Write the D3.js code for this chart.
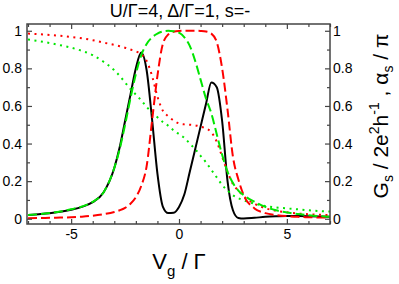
<!DOCTYPE html>
<html>
<head>
<meta charset="utf-8">
<script src="https://cdn.jsdelivr.net/npm/d3@7/dist/d3.min.js"></script>
<style>
  body { margin: 0; background: #fff; }
  svg { display: block; font-family: "Liberation Sans", Arial, sans-serif; }
</style>
</head>
<body>
<div id="chart"></div>
<script>
// gate voltage Vg / Gamma
var vg = [-7, -6.5, -6, -5.5, -5, -4.5, -4, -3.5, -3, -2.75, -2.5, -2.25, -2, -1.75, -1.5, -1.25, -1, -0.75, -0.5, -0.25,
          0, 0.25, 0.5, 0.75, 1, 1.25, 1.5, 1.75, 2, 2.25, 2.5, 2.75, 3, 3.5, 4, 4.5, 5, 5.5, 6, 6.5, 7];

// black solid
var gBlack = [0.02, 0.024, 0.029, 0.037, 0.048, 0.063, 0.088, 0.14, 0.27, 0.38, 0.52, 0.66, 0.80, 0.885, 0.79, 0.53, 0.24, 0.065, 0.03, 0.032,
              0.063, 0.13, 0.25, 0.37, 0.49, 0.61, 0.725, 0.70, 0.52, 0.2, 0.045, 0.004, 0.001, 0.005, 0.01, 0.013, 0.015, 0.014, 0.013, 0.012, 0.011];
// green dashed
var gGreen = [0.02, 0.024, 0.03, 0.038, 0.05, 0.065, 0.09, 0.14, 0.27, 0.37, 0.5, 0.64, 0.77, 0.87, 0.93, 0.965, 0.985, 0.996, 1.0, 0.998,
              0.99, 0.965, 0.92, 0.84, 0.74, 0.64, 0.56, 0.45, 0.34, 0.25, 0.19, 0.15, 0.125, 0.09, 0.063, 0.045, 0.033, 0.025, 0.019, 0.014, 0.011];
// red dashed
var gRed = [0.003, 0.004, 0.005, 0.006, 0.008, 0.011, 0.016, 0.024, 0.036, 0.045, 0.058, 0.08, 0.115, 0.175, 0.28, 0.52, 0.76, 0.93, 0.98, 0.995,
            0.999, 1.0, 1.0, 1.0, 0.999, 0.996, 0.985, 0.94, 0.8, 0.58, 0.33, 0.21, 0.125, 0.055, 0.03, 0.02, 0.014, 0.01, 0.008, 0.007, 0.006];
// red dotted (phase)
var aRed = [0.985, 0.982, 0.978, 0.973, 0.967, 0.96, 0.95, 0.937, 0.925, 0.918, 0.91, 0.90, 0.89, 0.875, 0.84, 0.76, 0.65, 0.575, 0.545, 0.522,
            0.507, 0.502, 0.5, 0.497, 0.49, 0.48, 0.46, 0.41, 0.33, 0.25, 0.185, 0.15, 0.12, 0.08, 0.056, 0.042, 0.034, 0.028, 0.024, 0.021, 0.019];
// green dotted (phase)
var aGreen = [0.953, 0.945, 0.935, 0.923, 0.91, 0.893, 0.87, 0.835, 0.79, 0.76, 0.725, 0.69, 0.66, 0.63, 0.595, 0.565, 0.54, 0.515, 0.495, 0.47,
              0.45, 0.43, 0.40, 0.37, 0.335, 0.30, 0.26, 0.22, 0.18, 0.15, 0.125, 0.11, 0.098, 0.08, 0.068, 0.06, 0.055, 0.05, 0.045, 0.041, 0.038];

var xTicks = [-5, 0, 5];
var xTickLabels = ['-5', '0', '5'];
var xMinor = [-7, -6, -4, -3, -2, -1, 1, 2, 3, 4, 6, 7];
var yTicks = [0, 0.2, 0.4, 0.6, 0.8, 1];
var yTickLabels = ['0', '0.2', '0.4', '0.6', '0.8', '1'];
var yMinor = [0.1, 0.3, 0.5, 0.7, 0.9];

var width = 399, height = 284;
var pLeft = 27, pRight = 330, pTop = 24, pBottom = 224;

var svg = d3.select('#chart').append('svg')
  .attr('width', width)
  .attr('height', height);

var x = d3.scaleLinear().domain([-7, 7]).range([28, 330]);
var y = d3.scaleLinear().domain([-0.028, 1.036]).range([pBottom, pTop]);

svg.append('clipPath').attr('id', 'clip')
  .append('rect')
  .attr('x', pLeft).attr('y', pTop)
  .attr('width', pRight - pLeft).attr('height', pBottom - pTop);

var plot = svg.append('g').attr('clip-path', 'url(#clip)');

var series = [
  { v: gBlack, color: '#000', dash: null },
  { v: aRed, color: '#ff0000', dash: '2,4.5' },
  { v: aGreen, color: '#00e600', dash: '2,4.5' },
  { v: gRed, color: '#ff0000', dash: '9,4' },
  { v: gGreen, color: '#00e600', dash: '9,4' }
];

var line = d3.line()
  .x(function(d) { return x(d[0]); })
  .y(function(d) { return y(d[1]); })
  .curve(d3.curveMonotoneX);

plot.selectAll('path.curve')
  .data(series)
  .enter()
  .append('path')
  .attr('class', 'curve')
  .attr('d', function(s) { return line(d3.zip(vg, s.v)); })
  .attr('fill', 'none')
  .attr('stroke', function(s) { return s.color; })
  .attr('stroke-width', 2)
  .attr('stroke-dasharray', function(s) { return s.dash; });

// axes, ticks point inward
function styleAxis(g) {
  g.select('.domain').remove();
  g.selectAll('line').attr('stroke', '#444').attr('stroke-width', 1.2);
  g.selectAll('text').attr('font-size', 14).attr('fill', '#000')
    .attr('font-family', '"Liberation Sans", Arial, sans-serif');
}

svg.append('g').attr('transform', 'translate(' + pLeft + ',0)')
  .call(d3.axisLeft(y).tickValues(yTicks).tickSize(-5).tickSizeOuter(0).tickPadding(5)
    .tickFormat(function(d, i) { return yTickLabels[i]; }))
  .call(styleAxis);
svg.append('g').attr('transform', 'translate(' + pLeft + ',0)')
  .call(d3.axisLeft(y).tickValues(yMinor).tickSize(-3).tickSizeOuter(0).tickFormat(''))
  .call(styleAxis);

svg.append('g').attr('transform', 'translate(' + pRight + ',0)')
  .call(d3.axisRight(y).tickValues(yTicks).tickSize(-5).tickSizeOuter(0).tickPadding(3)
    .tickFormat(function(d, i) { return yTickLabels[i]; }))
  .call(styleAxis);
svg.append('g').attr('transform', 'translate(' + pRight + ',0)')
  .call(d3.axisRight(y).tickValues(yMinor).tickSize(-3).tickSizeOuter(0).tickFormat(''))
  .call(styleAxis);

svg.append('g').attr('transform', 'translate(0,' + pBottom + ')')
  .call(d3.axisBottom(x).tickValues(xTicks).tickSize(-5).tickSizeOuter(0).tickPadding(5)
    .tickFormat(function(d, i) { return xTickLabels[i]; }))
  .call(styleAxis);
svg.append('g').attr('transform', 'translate(0,' + pBottom + ')')
  .call(d3.axisBottom(x).tickValues(xMinor).tickSize(-3).tickSizeOuter(0).tickFormat(''))
  .call(styleAxis);

svg.append('g').attr('transform', 'translate(0,' + pTop + ')')
  .call(d3.axisTop(x).tickValues(xTicks).tickSize(-5).tickSizeOuter(0).tickFormat(''))
  .call(styleAxis);
svg.append('g').attr('transform', 'translate(0,' + pTop + ')')
  .call(d3.axisTop(x).tickValues(xMinor).tickSize(-3).tickSizeOuter(0).tickFormat(''))
  .call(styleAxis);

// frame
svg.append('rect')
  .attr('x', pLeft).attr('y', pTop)
  .attr('width', pRight - pLeft).attr('height', pBottom - pTop)
  .attr('fill', 'none')
  .attr('stroke', '#444')
  .attr('stroke-width', 1.5);

// title
svg.append('text')
  .attr('x', 180).attr('y', 17)
  .attr('text-anchor', 'middle')
  .attr('font-size', 18)
  .text('U/Γ=4, Δ/Γ=1, s=-');

// x label
var xl = svg.append('text')
  .attr('x', 179).attr('y', 269)
  .attr('text-anchor', 'middle')
  .attr('font-size', 22);
xl.append('tspan').text('V');
xl.append('tspan').attr('font-size', 15).attr('dy', 7).text('g');
xl.append('tspan').attr('dy', -7).text(' / Γ');

// right y label
var yl = svg.append('text')
  .attr('transform', 'translate(388,116) rotate(-90)')
  .attr('text-anchor', 'middle')
  .attr('font-size', 21);
yl.append('tspan').text('G');
yl.append('tspan').attr('font-size', 14).attr('dy', 5).text('s');
yl.append('tspan').attr('dy', -5).text(' / 2e');
yl.append('tspan').attr('font-size', 14).attr('dy', -9).text('2');
yl.append('tspan').attr('dy', 9).text('h');
yl.append('tspan').attr('font-size', 14).attr('dy', -9).text('-1');
yl.append('tspan').attr('dy', 9).text(' ,  α');
yl.append('tspan').attr('font-size', 14).attr('dy', 5).text('s');
yl.append('tspan').attr('dy', -5).text(' / π');
</script>
</body>
</html>
